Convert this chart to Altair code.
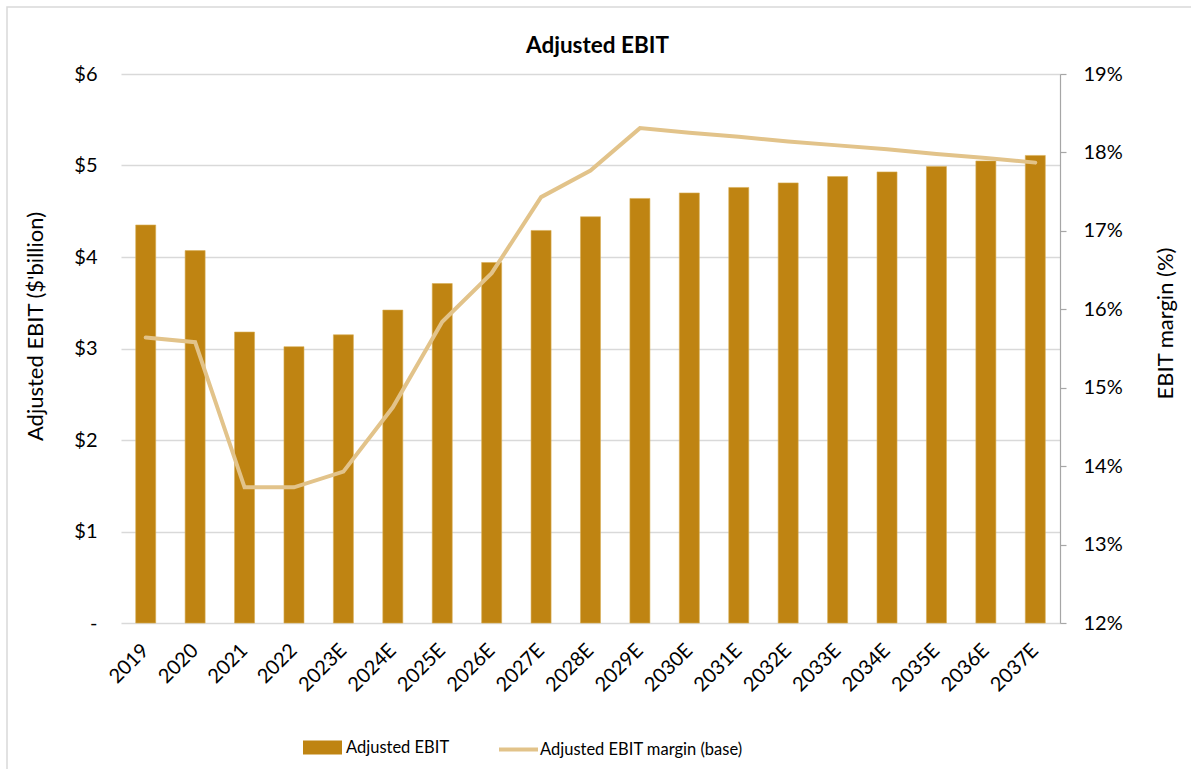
import altair as alt
import pandas as pd

# Fiscal years (actuals followed by estimates)
years = ["2019", "2020", "2021", "2022", "2023E", "2024E", "2025E", "2026E",
         "2027E", "2028E", "2029E", "2030E", "2031E", "2032E", "2033E",
         "2034E", "2035E", "2036E", "2037E"]

# Adjusted EBIT, $ billion
ebit = [4.35, 4.07, 3.18, 3.02, 3.15, 3.42, 3.71, 3.94, 4.29, 4.44,
        4.64, 4.70, 4.76, 4.81, 4.88, 4.93, 4.99, 5.05, 5.11]

# Adjusted EBIT margin (base case), %
margin = [15.64, 15.58, 13.73, 13.73, 13.93, 14.75, 15.84, 16.46, 17.43, 17.77,
          18.31, 18.25, 18.20, 18.14, 18.09, 18.04, 17.98, 17.93, 17.87]

BAR_NAME = "Adjusted EBIT"
LINE_NAME = "Adjusted EBIT margin (base)"
BAR_COLOR = "#BF8412"
LINE_COLOR = "#E2C38A"
GRID = "#D9D9D9"
FONT = "Lato"

df = pd.DataFrame({"year": years, "ebit": ebit, "margin": margin})
df["bar_series"] = BAR_NAME
df["line_series"] = LINE_NAME

W, H = 939, 549
PAD = {"left": 121, "top": 74, "right": 131, "bottom": 146}

x_enc = alt.X(
    "year:N",
    sort=years,
    scale=alt.Scale(paddingInner=0.595, paddingOuter=0.2975),
    axis=alt.Axis(
        title=None,
        labelAngle=315,
        labelAlign="right",
        labelBaseline="middle",
        labelPadding=24,
        ticks=False,
        domain=False,
    ),
)

base = alt.Chart(df)

bars = base.mark_bar(stroke="#D8AE55", strokeWidth=0.6).encode(
    x=x_enc,
    y=alt.Y(
        "ebit:Q",
        scale=alt.Scale(domain=[0, 6], nice=False),
        axis=alt.Axis(
            values=[0, 1, 2, 3, 4, 5, 6],
            labelExpr="datum.value == 0 ? '-' : '$' + datum.value",
            grid=True,
            gridColor=GRID,
            gridWidth=1.5,
            domain=False,
            ticks=False,
            labelPadding=24,
            title="Adjusted EBIT ($'billion)",
            titleAngle=270,
            titleX=-86,
            titleY=252,
            titleAlign="center",
            titleBaseline="middle",
        ),
    ),
    fill=alt.Fill(
        "bar_series:N",
        scale=alt.Scale(domain=[BAR_NAME], range=[BAR_COLOR]),
        legend=alt.Legend(
            title=None,
            orient="none",
            legendX=182,
            legendY=654,
            symbolType="M-1,-0.36L1,-0.36L1,0.36L-1,0.36Z",
            symbolSize=1521,
            symbolStrokeWidth=0,
            labelFontSize=16.5,
            labelFont=FONT,
            labelColor="#000000",
            labelOffset=4,
            labelLimit=0,
        ),
    ),
)

line = base.mark_line(strokeWidth=4, strokeCap="round", strokeJoin="miter").encode(
    x=x_enc,
    y=alt.Y(
        "margin:Q",
        scale=alt.Scale(domain=[12, 19], nice=False),
        axis=alt.Axis(
            orient="right",
            values=list(range(12, 20)),
            labelExpr="datum.value + '%'",
            grid=False,
            domain=True,
            domainColor="#A6A6A6",
            domainWidth=1.2,
            ticks=True,
            tickColor="#A6A6A6",
            tickSize=6,
            tickWidth=1.2,
            labelPadding=17,
            title="EBIT margin (%)",
            titleAngle=270,
            titleX=105,
            titleY=249,
            titleAlign="center",
            titleBaseline="middle",
        ),
    ),
    stroke=alt.Stroke(
        "line_series:N",
        scale=alt.Scale(domain=[LINE_NAME], range=[LINE_COLOR]),
        legend=alt.Legend(
            title=None,
            orient="none",
            legendX=376,
            legendY=654,
            symbolType="stroke",
            symbolSize=1521,
            symbolStrokeWidth=4,
            labelFontSize=16.5,
            labelFont=FONT,
            labelColor="#000000",
            labelOffset=0,
            labelLimit=0,
        ),
    ),
)

# Thin outer frame around the chart
frame = alt.Chart(pd.DataFrame({"k": [0]})).mark_rect(
    filled=False, stroke=GRID, strokeWidth=1.5
).encode(
    x=alt.value(-114), x2=alt.value(1080),
    y=alt.value(-67), y2=alt.value(700),
)

chart = (
    alt.layer(frame, bars, line)
    .resolve_scale(y="independent")
    .properties(
        width=W,
        height=H,
        padding=PAD,
        autosize=alt.AutoSizeParams(type="none"),
        background="white",
        title=alt.TitleParams(
            "Adjusted EBIT",
            font=FONT,
            fontSize=22.5,
            fontWeight="bold",
            color="#000000",
            anchor="middle",
            offset=17,
            dy=68,
            dx=7,
        ),
    )
    .configure_view(strokeWidth=0)
    .configure_axis(
        labelFont=FONT,
        labelFontSize=20,
        labelColor="#000000",
        titleFont=FONT,
        titleFontSize=22,
        titleFontWeight="normal",
        titleColor="#000000",
    )
)

chart.save("out.html", embed_options={"renderer": "svg", "actions": False})
